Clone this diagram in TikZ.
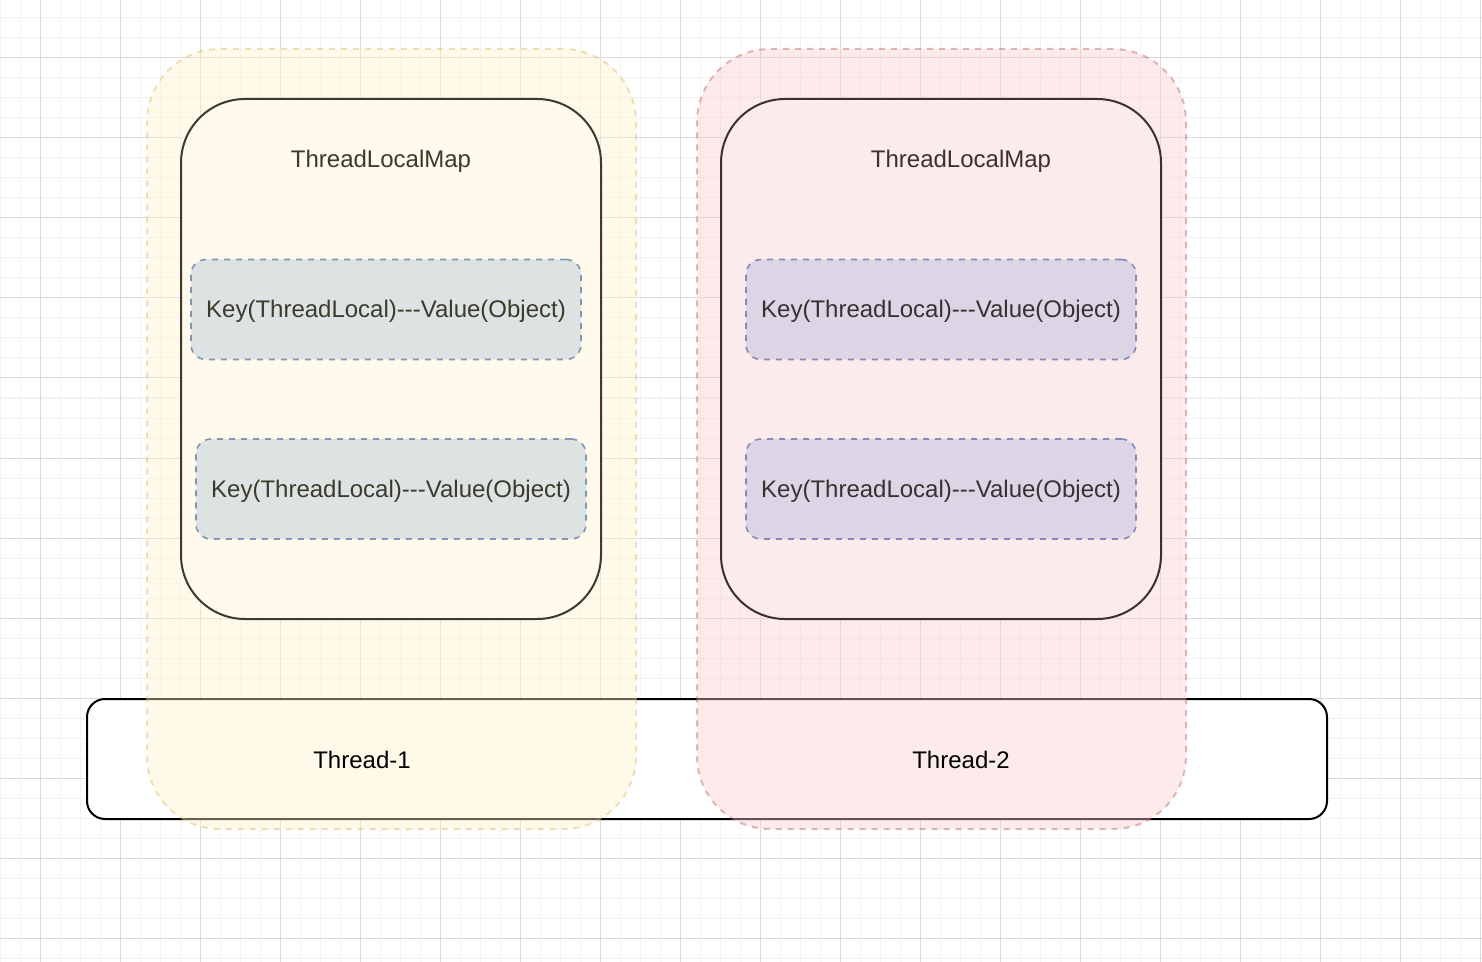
\documentclass[tikz,border=0pt]{standalone}
\usepackage{fontspec}
\setmainfont{Liberation Sans}
\usepackage{xcolor}
\usepackage{tikz}
\usetikzlibrary{
    positioning,
    calc
}
\definecolor{gridminor}{HTML}{F2F2F2}
\definecolor{gridmajor}{HTML}{DADADA}
\definecolor{ylwfill}{HTML}{FFF2CC}
\definecolor{ylwline}{HTML}{D6B656}
\definecolor{redfill}{HTML}{F8CECC}
\definecolor{redline}{HTML}{B85450}
\definecolor{inkL}{HTML}{3B3A2C}
\definecolor{inkR}{HTML}{3B3030}
\definecolor{kvfillL}{HTML}{DDE3E3}
\definecolor{kvfillR}{HTML}{DCD5E6}
\definecolor{kvlineL}{HTML}{8096B4}
\definecolor{kvlineR}{HTML}{8389B8}
\newcommand{\kvtext}{Key(ThreadLocal)-{}-{}-Value(Object)}
\tikzset{
    every node/.style={font=\fontsize{12pt}{14.4pt}\selectfont, inner sep=0pt},
    threadbox/.style={draw=black, fill=white, line width=1pt, rounded corners=9pt,
        minimum width=620pt, minimum height=60pt},
    container/.style={line width=1pt, dash pattern=on 3pt off 3pt, rounded corners=36.5pt,
        fill opacity=0.4, draw opacity=0.4, minimum width=244.5pt, minimum height=390pt},
    mapbox/.style={line width=1pt, rounded corners=32pt, minimum height=260pt},
    kvbox/.style={line width=0.8pt, dash pattern=on 3pt off 3pt, rounded corners=7.5pt,
        minimum width=195pt, minimum height=50pt, text height=11pt, text depth=2.5pt}
}

\begin{document}
\begin{tikzpicture}[x=0.5pt, y=-0.5pt]
        \useasboundingbox (0,0) rectangle (1482,962);
        \fill[white] (0,0) rectangle (1482,962);

        % background grid
        \foreach \gx in {0,20,...,1480} \draw[gridminor, line width=0.5pt] (\gx,0) -- (\gx,962);
        \foreach \gy in {18,38,...,960} \draw[gridminor, line width=0.5pt] (0,\gy) -- (1482,\gy);
        \foreach \gx in {40,120,...,1480} \draw[gridmajor, line width=0.5pt] (\gx,0) -- (\gx,962);
        \foreach \gy in {58,138,...,960} \draw[gridmajor, line width=0.5pt] (0,\gy) -- (1482,\gy);

        \draw (707,759) node[threadbox](thread){};

        \draw (391.5,439) node[container, draw=ylwline, fill=ylwfill](cntA){};
        \draw (941.5,439) node[container, draw=redline, fill=redfill](cntB){};

        % Thread-1 side
        \draw (391,359) node[mapbox, draw=inkL, fill=ylwfill!40, minimum width=210pt](mapA){};
        \draw (381,161) node[text=inkL](titleA){ThreadLocalMap};
        \draw (386,309.5) node[kvbox, draw=kvlineL, fill=kvfillL, text=inkL](kvA1){\kvtext};
        \draw (391,489) node[kvbox, draw=kvlineL, fill=kvfillL, text=inkL](kvA2){\kvtext};

        % Thread-2 side
        \draw (941,359) node[mapbox, draw=inkR, fill=redfill!40, minimum width=220pt](mapB){};
        \draw (961,161) node[text=inkR](titleB){ThreadLocalMap};
        \draw (941,309.5) node[kvbox, draw=kvlineR, fill=kvfillR, text=inkR](kvB1){\kvtext};
        \draw (941,489) node[kvbox, draw=kvlineR, fill=kvfillR, text=inkR](kvB2){\kvtext};

        \draw (362,760) node(lblA){Thread-1};
        \draw (961,760) node(lblB){Thread-2};
    \end{tikzpicture}
\end{document}
